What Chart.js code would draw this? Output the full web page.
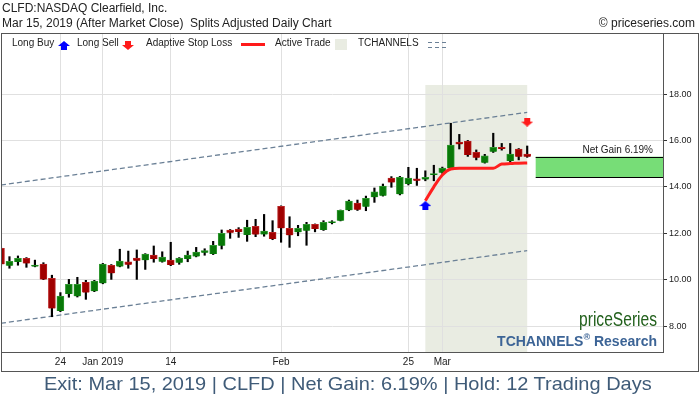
<!DOCTYPE html>
<html>
<head>
<meta charset="utf-8">
<script src="https://cdn.jsdelivr.net/npm/chart.js@4.4.1/dist/chart.umd.min.js"></script>
<style>
body { margin: 0; background: #fff; font-family: "Liberation Sans", Arial, sans-serif; }
#wrap { position: relative; width: 700px; height: 400px; overflow: hidden; }
#chart { position: absolute; left: 0; top: 0; }
.t { position: absolute; white-space: nowrap; color: #222; }
.lg { position: absolute; top: 37px; font-size: 10px; line-height: 12px; color: #222; white-space: nowrap; }
</style>
</head>
<body>
<div id="wrap">
  <canvas id="chart" width="700" height="400"></canvas>
  <div class="t" style="left:2px;top:1px;font-size:12px;line-height:14px;">CLFD:NASDAQ Clearfield, Inc.</div>
  <div class="t" style="left:2px;top:16px;font-size:12px;line-height:14px;">Mar 15, 2019 (After Market Close)&nbsp; Splits Adjusted Daily Chart</div>
  <div class="t" style="right:5px;top:16px;font-size:12px;line-height:14px;">© priceseries.com</div>

  <div class="lg" style="left:12px;">Long Buy</div>
  <div class="lg" id="lgBuy" style="left:58px;top:41px;"></div>
  <div class="lg" style="left:77px;">Long Sell</div>
  <div class="lg" id="lgSell" style="left:122px;top:41px;"></div>
  <div class="lg" style="left:146px;">Adaptive Stop Loss</div>
  <div class="lg" style="left:241px;top:43px;width:24px;height:2.5px;background:#ff1a1a;"></div>
  <div class="lg" style="left:275px;">Active Trade</div>
  <div class="lg" style="left:335px;top:39px;width:12px;height:11px;background:#e9ece2;"></div>
  <div class="lg" style="left:358px;">TCHANNELS</div>
  <svg class="lg" style="left:428px;top:40px;" width="20" height="10">
    <line x1="0" y1="2.5" x2="20" y2="2.5" stroke="#6b8096" stroke-width="1" stroke-dasharray="4,3"/>
    <line x1="0" y1="7.5" x2="20" y2="7.5" stroke="#6b8096" stroke-width="1" stroke-dasharray="4,3"/>
  </svg>

  <div class="t" id="brand" style="right:43px;top:308px;font-size:21px;line-height:21px;color:#22601c;transform-origin:right center;">priceSeries</div>
  <div class="t" style="right:43px;top:334px;font-size:14px;line-height:14px;font-weight:bold;color:#3c6496;">TCHANNELS<sup style="font-size:9px;line-height:0;">®</sup> Research</div>
  <div class="t" id="footer" style="left:44px;top:374px;font-size:19px;line-height:19px;color:#3f5b78;transform-origin:left center;">Exit: Mar 15, 2019 | CLFD | Net Gain: 6.19% | Hold: 12 Trading Days</div>
</div>
<script>
// trading days shown on the chart
const days = ['Dec 13','Dec 14','Dec 17','Dec 18','Dec 19','Dec 20','Dec 21','Dec 24','Dec 26','Dec 27','Dec 28','Dec 31',
  'Jan 2','Jan 3','Jan 4','Jan 7','Jan 8','Jan 9','Jan 10','Jan 11','Jan 14','Jan 15','Jan 16','Jan 17','Jan 18',
  'Jan 22','Jan 23','Jan 24','Jan 25','Jan 28','Jan 29','Jan 30','Jan 31',
  'Feb 1','Feb 4','Feb 5','Feb 6','Feb 7','Feb 8','Feb 11','Feb 12','Feb 13','Feb 14','Feb 15',
  'Feb 19','Feb 20','Feb 21','Feb 22','Feb 25','Feb 26','Feb 27','Feb 28',
  'Mar 1','Mar 4','Mar 5','Mar 6','Mar 7','Mar 8','Mar 11','Mar 12','Mar 13','Mar 14','Mar 15'];

const open = [11.35,10.60,10.76,10.92,10.56,10.67,10.06,8.65,9.38,9.28,
  9.88,9.50,9.84,10.62,10.56,10.77,10.93,10.84,11.06,10.77,
  10.84,10.73,10.89,11.00,11.16,11.10,11.46,12.14,12.18,11.92,
  12.30,11.95,12.04,13.16,12.21,12.04,12.11,12.38,12.14,12.44,
  12.54,12.99,13.30,13.14,13.55,13.62,14.38,13.68,14.12,14.34,
  14.32,14.51,14.61,14.80,15.93,15.97,15.49,15.04,15.51,15.70,
  15.11,15.63,15.41];
const high = [11.40,10.99,11.02,10.95,10.84,10.73,10.19,9.44,10.01,10.10,
  9.97,9.97,10.70,10.65,11.31,11.23,11.28,11.12,11.45,11.20,
  11.61,10.95,11.23,11.39,11.33,11.65,12.14,12.16,12.24,12.56,
  12.60,12.81,12.54,13.18,12.71,12.34,12.47,12.40,12.54,12.54,
  13.00,13.43,13.43,13.60,13.95,14.12,14.44,14.45,14.84,14.80,
  14.69,14.93,14.85,16.74,16.26,16.00,15.59,15.40,16.31,15.87,
  15.87,15.65,15.76];
const low = [10.60,10.49,10.62,10.53,10.55,10.00,8.40,8.62,9.24,9.25,
  9.15,9.48,9.82,10.01,10.55,10.49,10.01,10.44,10.75,10.75,
  10.60,10.66,10.77,10.98,11.05,11.08,11.32,11.78,11.82,11.65,
  11.85,11.87,11.72,11.61,11.39,11.89,11.48,12.06,12.12,12.40,
  12.53,12.97,12.98,12.97,13.33,13.60,13.98,13.65,14.08,14.06,
  14.26,14.26,14.58,14.78,15.63,15.31,15.16,15.02,15.48,15.58,
  15.05,15.16,15.27];
const close = [10.66,10.79,10.92,10.70,10.63,10.01,8.76,9.29,9.80,9.80,
  9.44,9.94,10.67,10.27,10.80,10.64,10.81,11.10,10.89,10.97,
  10.63,10.93,11.06,11.19,11.25,11.48,12.00,12.02,12.05,12.25,
  11.94,12.09,11.75,12.21,11.91,12.21,12.38,12.18,12.47,12.50,
  12.99,13.38,13.01,13.50,13.78,14.03,14.19,14.41,14.38,14.26,
  14.41,14.55,14.81,15.80,15.83,15.37,15.25,15.34,15.70,15.63,
  15.41,15.30,15.30];

// trade
const entryDay = 'Feb 27';
const exitDay = 'Mar 15';
const entryPrice = 14.41;
const exitPrice = 15.30;
const gainText = 'Net Gain 6.19%';
const stopLoss = [13.40,14.00,14.51,14.77,14.80,14.80,14.80,14.80,14.80,14.98,15.00,15.02,15.03];
const buyMark = 13.19;
const sellMark = 16.79;
const shadeTop = 18.39;

// channel lines (first day, last day)
const chanUpper = [14.08, 17.21];
const chanLower = [8.12, 11.25];

// axes
const tickDays = ['Dec 24','Jan 2','Jan 14','Feb 1','Feb 25','Mar 1'];
const tickText = ['24','Jan 2019','14','Feb','25','Mar'];
const yTicks = [8, 10, 12, 14, 16, 18];

const idx = d => days.indexOf(d);
const entryIdx = idx(entryDay);
const exitIdx = idx(exitDay);
const lastIdx = days.length - 1;

function makeArrow(color, up) {
    const c = document.createElement('canvas');
    c.width = 12; c.height = 9;
    const g = c.getContext('2d');
    g.fillStyle = color;
    g.beginPath();
    if (up) {
        g.moveTo(0, 5); g.lineTo(6, 0); g.lineTo(12, 5);
        g.closePath(); g.fill();
        g.fillRect(3, 5, 6, 4);
    } else {
        g.fillRect(3, 0, 6, 4);
        g.moveTo(0, 4); g.lineTo(12, 4); g.lineTo(6, 9);
        g.closePath(); g.fill();
    }
    return c;
}
document.getElementById('lgBuy').appendChild(makeArrow('#0000ff', true));
document.getElementById('lgSell').appendChild(makeArrow('#ff1a1a', false));

// fit condensed-looking texts
function fitWidth(id, w) {
    const el = document.getElementById(id);
    el.style.transform = 'scaleX(' + (w / el.offsetWidth) + ')';
}
fitWidth('footer', 608);
fitWidth('brand', 78);

const isUp = open.map((o, i) => close[i] >= o);

const extras = {
    id: 'extras',
    beforeDraw(chart) {
        const { ctx, chartArea, scales: { x, y } } = chart;
        ctx.save();
        ctx.fillStyle = '#e9ece2';
        const x0 = x.getPixelForValue(entryIdx), x1 = x.getPixelForValue(exitIdx);
        const yt = y.getPixelForValue(shadeTop);
        ctx.fillRect(x0, yt, x1 - x0, chartArea.bottom - yt);
        ctx.restore();
    },
    beforeDatasetsDraw(chart) {
        const { ctx, chartArea, scales: { x, y } } = chart;
        const gx = x.getPixelForValue(exitIdx + 1);
        const gt = y.getPixelForValue(exitPrice), gb = y.getPixelForValue(entryPrice);
        ctx.save();
        ctx.fillStyle = '#77dd77';
        ctx.fillRect(gx, gt, chartArea.right - gx, gb - gt);
        ctx.strokeStyle = '#000';
        ctx.lineWidth = 1;
        ctx.beginPath();
        ctx.moveTo(gx, Math.round(gt) + 0.5); ctx.lineTo(chartArea.right, Math.round(gt) + 0.5);
        ctx.moveTo(gx, Math.round(gb) + 0.5); ctx.lineTo(chartArea.right, Math.round(gb) + 0.5);
        ctx.stroke();
        ctx.fillStyle = '#222';
        ctx.font = '10px "Liberation Sans", Arial, sans-serif';
        ctx.textAlign = 'right';
        ctx.textBaseline = 'alphabetic';
        ctx.fillText(gainText, chartArea.right - 10, gt - 4);
        ctx.restore();
    },
    afterDraw(chart) {
        const ctx = chart.ctx;
        ctx.save();
        ctx.strokeStyle = '#555';
        ctx.lineWidth = 1;
        ctx.strokeRect(1.5, 33.5, 697, 338);
        ctx.restore();
    }
};

const ctx = document.getElementById('chart').getContext('2d');
new Chart(ctx, {
    type: 'bar',
    data: {
        datasets: [{
            type: 'scatter',
            data: [{ x: entryIdx, y: buyMark }],
            pointStyle: makeArrow('#0000ff', true),
            pointRadius: 6,
            order: 0
        }, {
            type: 'scatter',
            data: [{ x: exitIdx, y: sellMark }],
            pointStyle: makeArrow('#ff1a1a', false),
            pointRadius: 6,
            order: 0
        }, {
            type: 'line',
            data: stopLoss.map((v, k) => ({ x: entryIdx + k, y: v })),
            borderColor: '#ff1f1f',
            borderWidth: 3,
            pointRadius: 0,
            cubicInterpolationMode: 'monotone',
            clip: 0,
            order: 1
        }, {
            type: 'bar',
            data: days.map((d, i) => ({ x: i, y: [open[i], close[i]] })),
            backgroundColor: isUp.map(u => u ? '#087808' : '#a00000'),
            borderColor: isUp.map(u => u ? '#2f962f' : '#b82222'),
            borderWidth: 1,
            barThickness: 7,
            minBarLength: 1.5,
            grouped: false,
            clip: 0,
            order: 2
        }, {
            type: 'bar',
            data: days.map((d, i) => ({ x: i, y: [low[i], high[i]] })),
            backgroundColor: '#000',
            barThickness: 1.5,
            grouped: false,
            clip: 0,
            order: 3
        }, {
            type: 'line',
            data: [{ x: 0, y: chanUpper[0] }, { x: lastIdx, y: chanUpper[1] }],
            borderColor: '#6b8096',
            borderWidth: 1.3,
            borderDash: [5, 3],
            pointRadius: 0,
            clip: 0,
            order: 4
        }, {
            type: 'line',
            data: [{ x: 0, y: chanLower[0] }, { x: lastIdx, y: chanLower[1] }],
            borderColor: '#6b8096',
            borderWidth: 1.3,
            borderDash: [5, 3],
            pointRadius: 0,
            clip: 0,
            order: 4
        }]
    },
    options: {
        responsive: false,
        animation: false,
        devicePixelRatio: 1,
        layout: { autoPadding: false, padding: { top: 33, left: 2, right: 0, bottom: 0 } },
        plugins: { legend: { display: false }, tooltip: { enabled: false } },
        scales: {
            x: {
                type: 'linear',
                min: 0.12,
                max: 78.0,
                offset: false,
                grid: { color: '#e0e0e0', offset: false, drawTicks: false },
                border: { color: '#555' },
                afterBuildTicks: s => { s.ticks = tickDays.map(d => ({ value: idx(d) })); },
                afterFit: s => { s.height = 48; s.paddingLeft = 0; s.paddingRight = 0; },
                ticks: {
                    autoSkip: false,
                    maxRotation: 0,
                    padding: 4,
                    color: '#222',
                    font: { family: '"Liberation Sans", Arial, sans-serif', size: 10 },
                    callback: (v, i) => tickText[i]
                }
            },
            y: {
                type: 'linear',
                position: 'right',
                min: 6.88,
                max: 20.63,
                grid: { color: '#e0e0e0', tickColor: '#333', tickLength: 4 },
                border: { color: '#555' },
                afterBuildTicks: s => { s.ticks = yTicks.map(v => ({ value: v })); },
                afterFit: s => { s.width = 37; s.paddingTop = 0; s.paddingBottom = 0; },
                ticks: {
                    padding: 2,
                    color: '#222',
                    font: { family: '"Liberation Sans", Arial, sans-serif', size: 9 },
                    callback: v => v.toFixed(2)
                }
            }
        }
    },
    plugins: [extras]
});
</script>
</body>
</html>
